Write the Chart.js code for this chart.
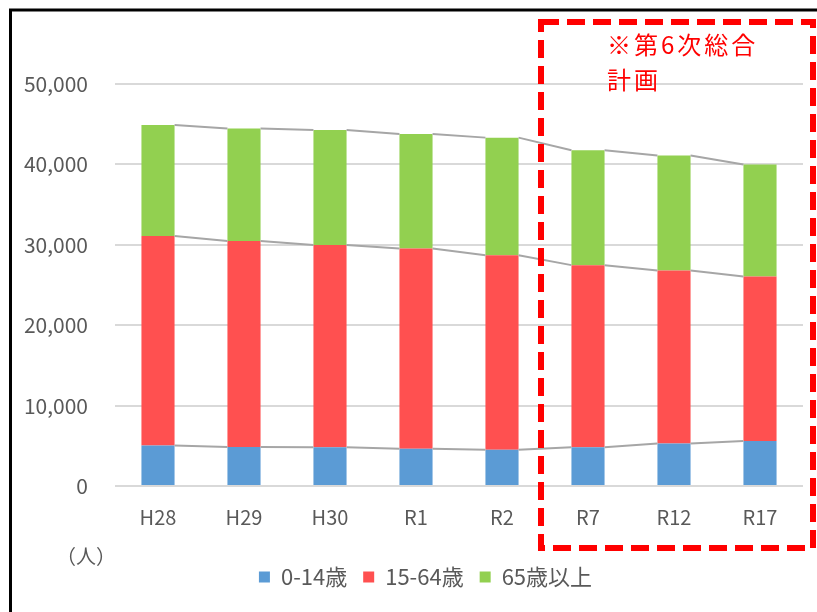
<!DOCTYPE html>
<html>
<head>
<meta charset="utf-8">
<script src="https://cdn.jsdelivr.net/npm/chart.js@4"></script>
<style>
  html, body { margin: 0; padding: 0; background: #fff; }
  canvas { display: block; }
</style>
</head>
<body>
<canvas id="popChart" width="817" height="612"></canvas>
<script>
"use strict";
const years = ["H28", "H29", "H30", "R1", "R2", "R7", "R12", "R17"];
const young = [5030, 4840, 4830, 4630, 4500, 4830, 5280, 5610];
const working = [26070, 25640, 25160, 24900, 24210, 22640, 21520, 20450];
const elderly = [13800, 13970, 14280, 14250, 14620, 14290, 14300, 13940];
const yTicks = [0, 10000, 20000, 30000, 40000, 50000];

const FONT = "'Noto Sans CJK JP', 'Noto Sans', sans-serif";
const GREY = "#595959";

// grey lines joining the tops of each stack segment, bar to bar
const seriesLines = {
  id: "seriesLines",
  afterDatasetsDraw(chart) {
    const c = chart.ctx;
    c.save();
    c.strokeStyle = "#a6a6a6";
    c.lineWidth = 2;
    chart.data.datasets.forEach((ds, d) => {
      const bars = chart.getDatasetMeta(d).data;
      for (let i = 0; i < bars.length - 1; i++) {
        const a = bars[i];
        const b = bars[i + 1];
        c.beginPath();
        c.moveTo(a.x + a.width / 2, a.y);
        c.lineTo(b.x - b.width / 2, b.y);
        c.stroke();
      }
    });
    c.restore();
  },
};

// nudge the legend a little right of centre
const legendShift = {
  id: "legendShift",
  afterLayout(chart) {
    chart.legend.left += 24;
    chart.legend.right += 24;
  },
};

// frame, unit label and the plan box
const extras = {
  id: "extras",
  afterDraw(chart) {
    const c = chart.ctx;
    c.save();
    c.strokeStyle = "#000";
    c.lineWidth = 3;
    c.beginPath();
    c.moveTo(10.5, 612);
    c.lineTo(10.5, 10);
    c.lineTo(817, 10);
    c.stroke();

    c.fillStyle = GREY;
    c.font = "20px " + FONT;
    c.textBaseline = "middle";
    c.textAlign = "left";
    c.fillText("（人）", 56, 556);

    c.strokeStyle = "#ff0000";
    c.lineWidth = 6;
    c.setLineDash([18, 8]);
    c.strokeRect(541, 22, 272, 526);
    c.setLineDash([]);

    c.fillStyle = "#ff0000";
    c.font = "24px " + FONT;
    c.letterSpacing = "3px";
    c.fillText("※第6次総合", 607, 45);
    c.fillText("計画", 607, 80);
    c.restore();
  },
};

new Chart(document.getElementById("popChart"), {
  type: "bar",
  data: {
    labels: years,
    datasets: [
      { label: "0-14歳", data: young, backgroundColor: "#5b9bd5" },
      { label: "15-64歳", data: working, backgroundColor: "#ff5050" },
      { label: "65歳以上", data: elderly, backgroundColor: "#92d050" },
    ],
  },
  options: {
    responsive: false,
    animation: false,
    devicePixelRatio: 1,
    categoryPercentage: 1,
    barPercentage: 0.385,
    layout: { padding: { top: 84, left: 0, right: 14, bottom: 14 } },
    plugins: {
      legend: {
        position: "bottom",
        labels: {
          boxWidth: 11,
          boxHeight: 11,
          padding: 16,
          color: GREY,
          font: { family: FONT, size: 22 },
        },
      },
      tooltip: { enabled: false },
    },
    scales: {
      x: {
        stacked: true,
        grid: { display: false, drawTicks: false },
        border: { display: false },
        ticks: { color: GREY, font: { family: FONT, size: 20 }, padding: 19 },
        afterFit(scale) { scale.height = 64; },
      },
      y: {
        stacked: true,
        min: 0,
        max: 50000,
        afterBuildTicks(scale) {
          scale.ticks = yTicks.map((v) => ({ value: v }));
        },
        grid: { color: "#d9d9d9", lineWidth: 2, drawTicks: false },
        border: { display: false },
        ticks: {
          color: GREY,
          font: { family: FONT, size: 21 },
          padding: 27,
          callback: (v) => v.toLocaleString("en-US"),
        },
        afterFit(scale) { scale.width = 115; },
      },
    },
  },
  plugins: [seriesLines, legendShift, extras],
});
</script>
</body>
</html>
